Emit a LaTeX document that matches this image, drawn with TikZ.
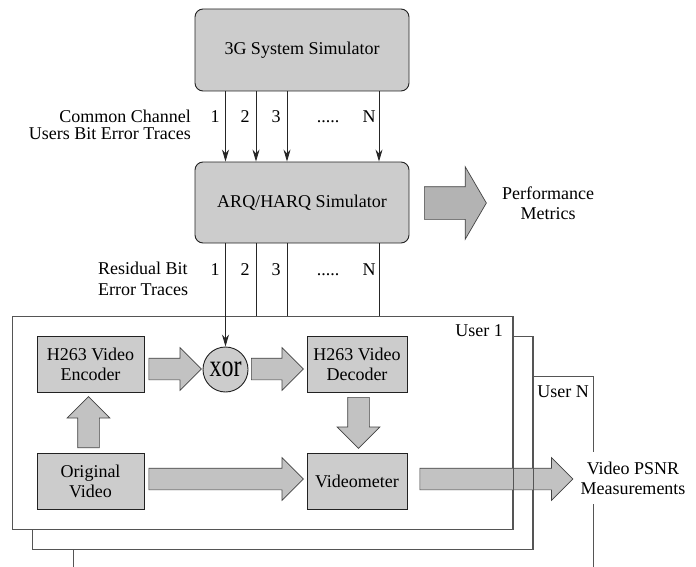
\documentclass[tikz,border=0pt]{standalone}
\usepackage{fontspec}
\setmainfont{Liberation Serif}
\usepackage{graphicx}
\usetikzlibrary{shapes.arrows,arrows.meta,calc}
\definecolor{boxgray}{HTML}{CCCCCC}
\definecolor{arrgray}{HTML}{C2C2C2}
\definecolor{perfgray}{HTML}{B3B3B3}
\definecolor{edgecol}{HTML}{222222}
\definecolor{framecol}{HTML}{555555}
\begin{document}
\begin{tikzpicture}[x=1pt,y=-1pt,
  lbl/.style={font=\fontsize{18}{20}\selectfont, inner sep=0pt},
  blockbox/.style={draw=edgecol, line width=0.9pt, fill=boxgray, font=\fontsize{18}{20}\selectfont, align=center, inner sep=0pt},
  simbox/.style={blockbox, rounded corners=8pt, minimum width=214pt, minimum height=82pt},
  procbox/.style={blockbox, minimum height=56pt},
  userframe/.style={draw=framecol, line width=1.2pt, fill=white, inner sep=0pt, anchor=north west},
  frameline/.style={draw=framecol, line width=1.2pt},
  trace/.style={draw=black!85, line width=0.9pt},
  tracearrow/.style={trace, -{Stealth[length=12pt,width=7pt]}},
  blk/.style={single arrow, draw=edgecol!85, line width=0.7pt, fill=arrgray, inner sep=0pt, inner ysep=10.5pt, single arrow head extend=10.5pt, single arrow tip angle=90, minimum width=42pt, anchor=tail},
]
\useasboundingbox (0,0) rectangle (696,567);

% simulators
\node[simbox] (sim) at (302,50) {3G System Simulator};
\node[simbox, minimum height=81pt] (arq) at (302,202.5) {ARQ/HARQ Simulator};

% user frames
\begin{scope}
  \clip (0,0) rectangle (696,567);
  \node[userframe, minimum width=520pt, minimum height=224pt] (uN) at (73,376) {};
\end{scope}
\node[userframe, minimum width=500pt, minimum height=213pt] (u2) at (32,336) {};
\node[userframe, minimum width=500pt, minimum height=213pt] (u1) at (12,316) {};

% inner blocks
\node[procbox, minimum width=107pt] (enc) at (90.5,364) {H263 Video\\Encoder};
\node[procbox, minimum width=107pt] (orig) at (90.5,481) {Original\\Video};
\node[procbox, minimum width=100pt] (dec) at (357,364) {H263 Video\\Decoder};
\node[procbox, minimum width=100pt] (vm) at (357,481) {Videometer};
\node[draw=edgecol, line width=0.9pt, fill=boxgray, circle, minimum size=45pt, inner sep=0pt,
      font=\fontsize{24}{24}\selectfont] (xor) at (225.5,369.5) {\scalebox{1}[1.3]{xor}};

% trace coordinates
\coordinate (t1) at (225.5,0);
\coordinate (t2) at (256,0);
\coordinate (t3) at (287,0);
\coordinate (tN) at (379,0);

\draw[tracearrow] (sim.south -| t1) -- (arq.north -| t1);
\draw[tracearrow] (sim.south -| t2) -- (arq.north -| t2);
\draw[tracearrow] (sim.south -| t3) -- (arq.north -| t3);
\draw[tracearrow] (sim.south -| tN) -- (arq.north -| tN);

\draw[tracearrow] (arq.south -| t1) -- (xor.north);
\draw[trace] (arq.south -| t2) -- (u1.north -| t2);
\draw[trace] (arq.south -| t3) -- (u1.north -| t3);
\draw[trace] (arq.south -| tN) -- (u1.north -| tN);

% trace numbers
\node[lbl, anchor=base] (n1a) at (215,123) {1};
\node[lbl, anchor=base] (n2a) at (245,123) {2};
\node[lbl, anchor=base] (n3a) at (276,123) {3};
\node[lbl, anchor=base] (dta) at (328,123) {.....};
\node[lbl, anchor=base] (nNa) at (369,123) {N};
\node[lbl, anchor=base] (n1b) at (215,275) {1};
\node[lbl, anchor=base] (n2b) at (245,275) {2};
\node[lbl, anchor=base] (n3b) at (276,275) {3};
\node[lbl, anchor=base] (dtb) at (328,275) {.....};
\node[lbl, anchor=base] (nNb) at (369,275) {N};

% side labels
\node[lbl, align=right, anchor=east, font=\fontsize{18}{16.5}\selectfont] (cc) at (191,125) {Common Channel\\Users Bit Error Traces};
\node[lbl, align=left, anchor=west, font=\fontsize{18}{21}\selectfont] (rb) at (98,279) {Residual Bit\\Error Traces};
\node[lbl, align=center] (perfl) at (548,203) {Performance\\Metrics};
\node[lbl, anchor=east] (u1l) at (503,331) {User 1};
\node[lbl, anchor=east] (uNl) at (589,392) {User N};

% block arrows
\node[blk, minimum height=52.5pt] (a1) at (148.5,369) {};
\node[blk, minimum height=52pt] (a2) at (251,369) {};
\node[blk, minimum height=51pt, rotate=90] (a3) at (88.5,448) {};
\node[blk, minimum height=51pt, rotate=-90] (a4) at (358.5,397) {};
\node[blk, minimum height=154.5pt] (a5) at (148.5,479) {};
\node[blk, minimum height=153pt] (a6) at (419.5,479) {};
\node[blk, fill=perfgray, inner ysep=16pt, single arrow head extend=20pt, single arrow tip angle=119.5,
      minimum width=72pt, minimum height=62pt] (perf) at (424,203) {};

% frame edges drawn over the output arrow
\draw[frameline] (u1.north east) -- (u1.south east);
\draw[frameline] (u2.north east) -- (u2.south east);

\node[lbl, align=center, fill=white, inner xsep=2pt, inner ysep=10pt] (psnr) at (633,478) {Video PSNR\\Measurements};
\end{tikzpicture}
\end{document}
